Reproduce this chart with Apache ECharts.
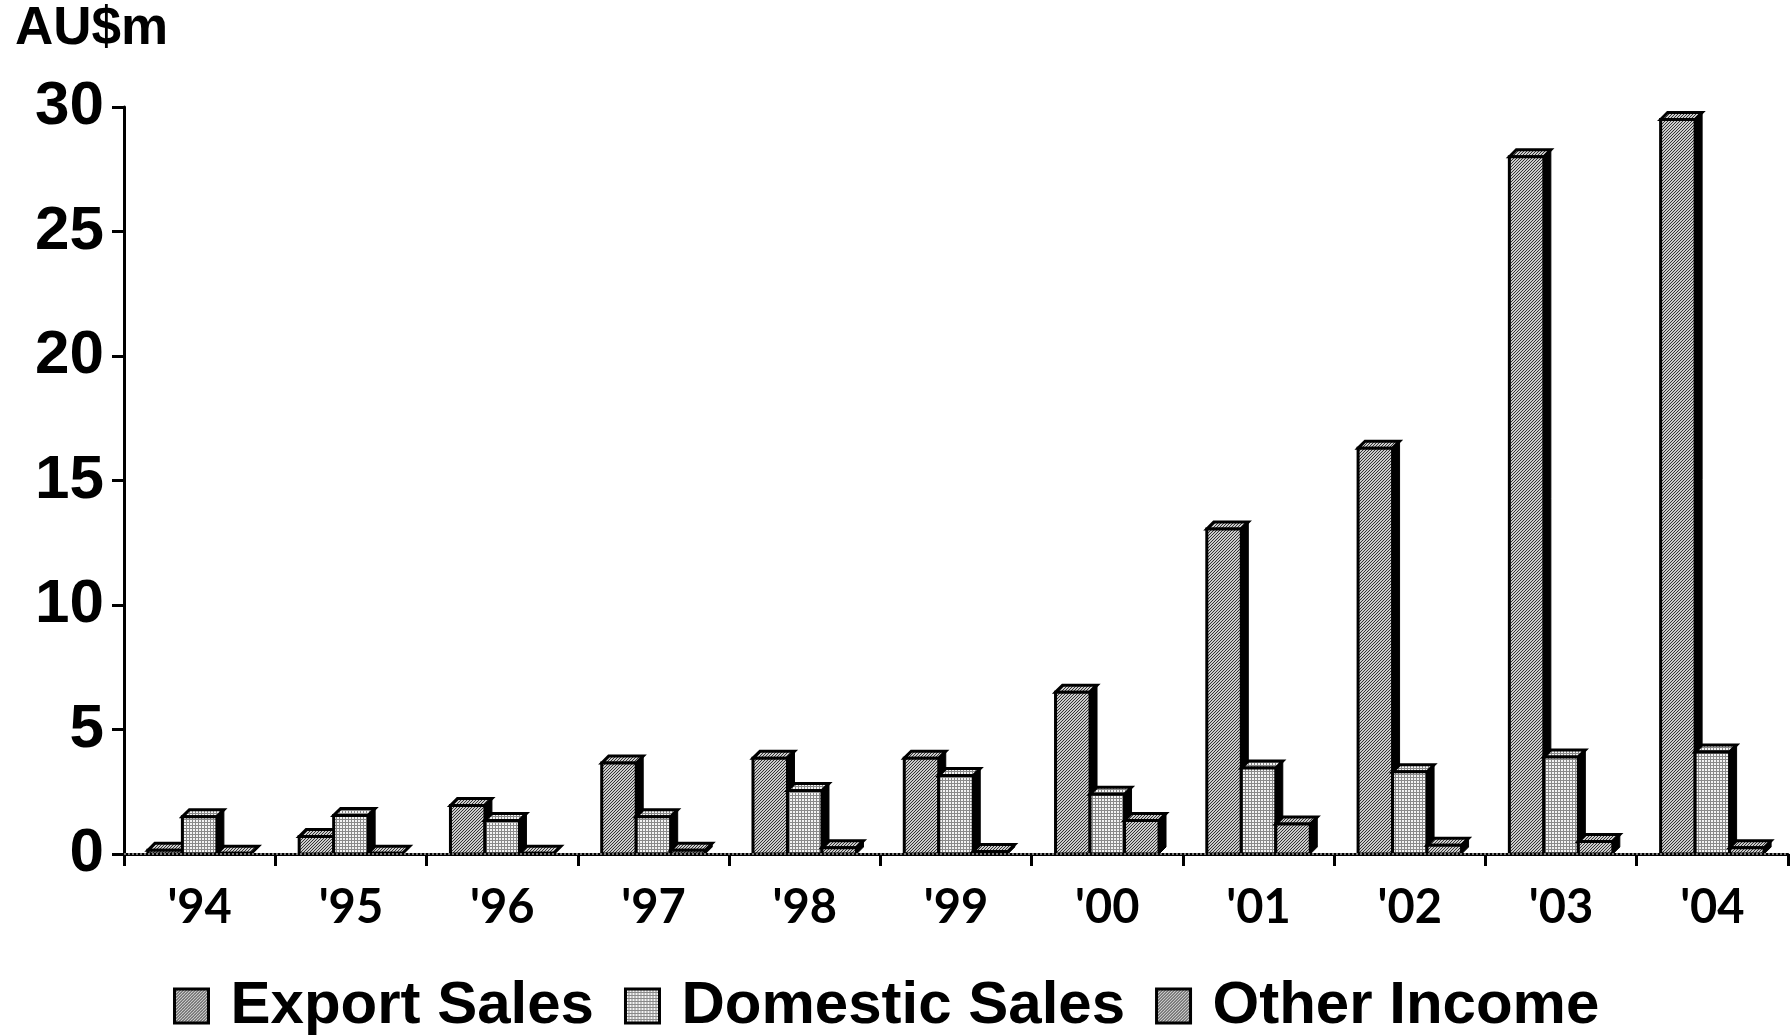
<!DOCTYPE html>
<html>
<head>
<meta charset="utf-8">
<script src="https://cdn.jsdelivr.net/npm/echarts@6/dist/echarts.min.js"></script>
<style>
html,body{margin:0;padding:0;background:#fff;}
#chart{width:1791px;height:1035px;}
</style>
</head>
<body>
<div id="chart"></div>
<script>
var categories = ["'94","'95","'96","'97","'98","'99","'00","'01","'02","'03","'04"];
var exportSales = [0.15, 0.7, 1.95, 3.65, 3.85, 3.85, 6.5, 13.05, 16.3, 28.0, 29.5];
var domesticSales = [1.5, 1.55, 1.35, 1.5, 2.55, 3.15, 2.4, 3.45, 3.3, 3.9, 4.1];
var otherIncome = [0.03, 0.03, 0.03, 0.15, 0.25, 0.1, 1.35, 1.2, 0.35, 0.5, 0.25];
var seriesNames = ['Export Sales', 'Domestic Sales', 'Other Income'];
var yTicks = [0, 5, 10, 15, 20, 25, 30];

function makePattern(kind){
  var c = document.createElement('canvas');
  var ctx = c.getContext('2d');
  if (kind === 'grid') {
    c.width = 3; c.height = 3;
    ctx.fillStyle = '#f4f4f4'; ctx.fillRect(0,0,3,3);
    ctx.fillStyle = '#8a8a8a';
    ctx.fillRect(0,0,3,1); ctx.fillRect(0,0,1,3);
  } else {
    c.width = 6; c.height = 6;
    ctx.fillStyle = '#cbcbcb'; ctx.fillRect(0,0,6,6);
    ctx.fillStyle = '#333333';
    var pts = [[0,0],[1,5],[2,4],[3,3],[4,2],[5,1],[0,3],[3,0],[1,2],[4,5],[2,1],[5,4]];
    pts.forEach(function(p){ ctx.fillRect(p[0],p[1],1,1); });
  }
  return {image: c, repeat: 'repeat'};
}
var patWave = makePattern('wave');
var patGrid = makePattern('grid');
var pats = [patWave, patGrid, patWave];

function makeRender(si){
  return function(params, api){
    var cat = api.value(0), val = api.value(1);
    var base = api.coord([cat, 0]);
    var top = api.coord([cat, val]);
    var band = api.size([1, 0])[0];
    var w = band * 0.228;
    var x = base[0] - 1.5 * w + si * w;
    var d = 7;
    var y0 = base[1], y1 = top[1];
    var pat = pats[si];
    return {
      type: 'group',
      children: [
        {type: 'polygon', shape: {points: [[x + w, y1], [x + w + d, y1 - d], [x + w + d, y0 - d], [x + w, y0]]},
         style: {fill: '#000', stroke: '#000', lineWidth: 1}},
        {type: 'polygon', shape: {points: [[x, y1], [x + d, y1 - d], [x + w + d, y1 - d], [x + w, y1]]},
         style: {fill: pat, stroke: '#000', lineWidth: 3}},
        {type: 'rect', shape: {x: x, y: y1, width: w, height: Math.max(0, y0 - y1)},
         style: {fill: pat, stroke: '#000', lineWidth: 3}}
      ]
    };
  };
}

var dataSets = [exportSales, domesticSales, otherIncome];
var series = dataSets.map(function(arr, si){
  return {
    name: seriesNames[si],
    type: 'custom',
    renderItem: makeRender(si),
    encode: {x: 0, y: 1},
    itemStyle: {color: pats[si], borderColor: '#000', borderWidth: 3},
    data: arr.map(function(v, i){ return [i, v]; }),
    clip: false
  };
});
// floor line (dotted) drawn at the zero level
series[0].markLine = {
  silent: true, symbol: 'none', label: {show: false},
  lineStyle: {color: '#777', type: 'dotted', width: 2},
  data: [{yAxis: 0}]
};

var chart = echarts.init(document.getElementById('chart'), null, {renderer: 'canvas'});
chart.setOption({
  animation: false,
  backgroundColor: '#fff',
  grid: {left: 124, right: 3, top: 107, bottom: 181, containLabel: false},
  graphic: [{
    type: 'text', left: 15, top: 3,
    style: {text: 'AU$m', font: 'bold 53px "Liberation Sans", Arial, sans-serif', fill: '#000'}
  }],
  legend: {
    data: seriesNames,
    bottom: -6,
    left: 168,
    icon: 'rect',
    itemWidth: 34,
    itemHeight: 34,
    itemGap: 30,
    itemStyle: {borderColor: '#000', borderWidth: 3},
    textStyle: {fontSize: 60, fontWeight: 'bold', fontFamily: '"Liberation Sans", Arial, sans-serif', color: '#000', padding: [0, 0, 0, 17]}
  },
  xAxis: {
    type: 'category',
    data: categories,
    boundaryGap: true,
    axisLine: {show: true, lineStyle: {color: '#000', width: 3}},
    axisTick: {show: true, length: 12, lineStyle: {color: '#000', width: 3}, alignWithLabel: false},
    axisLabel: {fontSize: 47, fontWeight: 'bold', fontFamily: 'Lato, "DejaVu Sans", sans-serif', color: '#000', margin: 30},
    splitLine: {show: false}
  },
  yAxis: {
    type: 'value',
    min: yTicks[0],
    max: yTicks[yTicks.length - 1],
    interval: 5,
    axisLine: {show: true, lineStyle: {color: '#000', width: 3}},
    axisTick: {show: true, length: 12, lineStyle: {color: '#000', width: 3}},
    axisLabel: {fontSize: 62, fontWeight: 'bold', fontFamily: '"Liberation Sans", Arial, sans-serif', color: '#000', margin: 20},
    splitLine: {show: false}
  },
  series: series
});
</script>
</body>
</html>
